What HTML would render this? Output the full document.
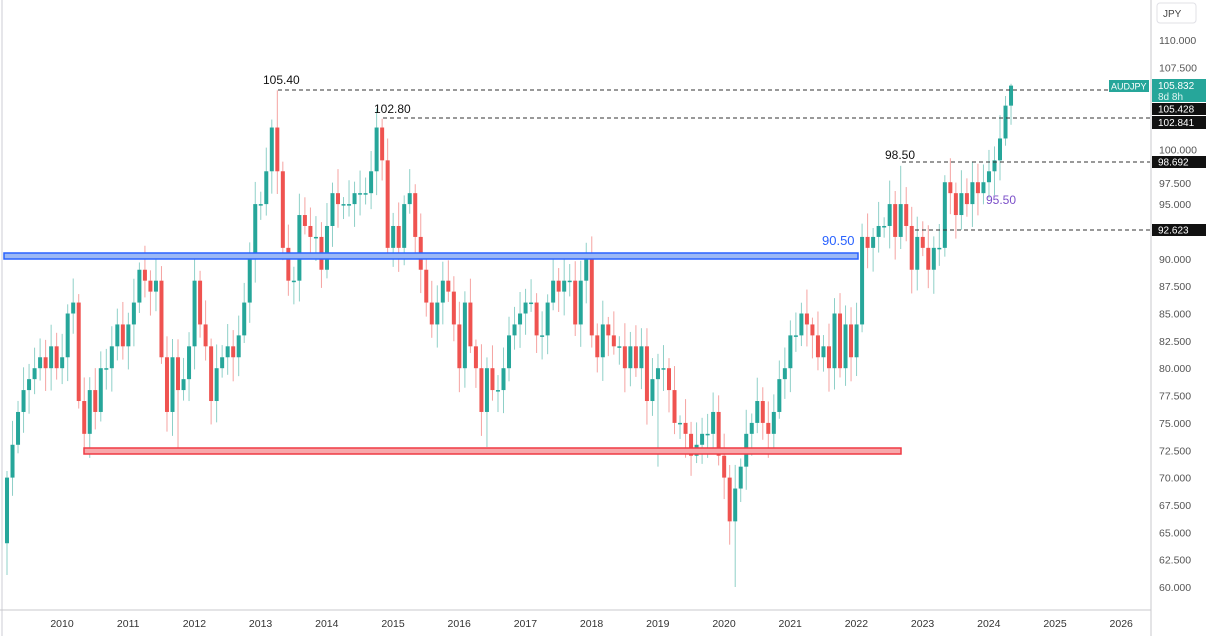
<!DOCTYPE html>
<html><head><meta charset="utf-8"><style>
body{margin:0;background:#fff;font-family:"Liberation Sans",sans-serif}
svg{display:block}
</style></head><body>
<svg id="c" width="1206" height="636" xmlns="http://www.w3.org/2000/svg" font-family="Liberation Sans, sans-serif">
<rect width="1206" height="636" fill="#fff"/>
<line x1="2" y1="0" x2="2" y2="636" stroke="#e6e6ea" stroke-width="2"/>
<g id="cand"></g>
<rect x="4" y="253" width="854" height="6" fill="#9bb8f5" stroke="#2962ff" stroke-width="1.5"/>
<rect x="84" y="448" width="817" height="6" fill="#f8a8ab" stroke="#ef3a44" stroke-width="1.5"/>
<g stroke="#333" stroke-width="1" stroke-dasharray="4,3">
<line x1="278" y1="90" x2="1108" y2="90"/>
<line x1="383" y1="118" x2="1150" y2="118"/>
<line x1="902" y1="162" x2="1150" y2="162"/>
<line x1="915" y1="230" x2="1150" y2="230"/>
</g>
<g font-size="12" fill="#111">
<text x="263" y="84">105.40</text>
<text x="374" y="113">102.80</text>
<text x="885" y="159">98.50</text>
</g>
<text x="822" y="245" font-size="13" fill="#2962ff">90.50</text>
<text x="986" y="204" font-size="12" fill="#7b4fc9">95.50</text>
<line x1="1151" y1="0" x2="1151" y2="636" stroke="#c8c8cc"/>
<line x1="0" y1="610" x2="1151" y2="610" stroke="#c8c8cc"/>
<g id="ylab" font-size="10.5" fill="#555"></g>
<g id="xlab" font-size="10.5" fill="#333"></g>
<rect x="1157" y="3" width="39" height="20" rx="3" fill="#fff" stroke="#e0e0e6"/>
<text x="1163" y="17" font-size="10" fill="#444">JPY</text>
<rect x="1109" y="80" width="40" height="12" fill="#26a69a"/>
<text x="1111" y="89.5" font-size="9" fill="#fff">AUDJPY</text>
<rect x="1152" y="79" width="54" height="23" fill="#26a69a"/>
<text x="1158" y="89" font-size="10" fill="#fff">105.832</text>
<text x="1158" y="100" font-size="10" fill="#e0f5f2">8d 8h</text>
<rect x="1152" y="103" width="54" height="12" fill="#111"/>
<text x="1158" y="112.5" font-size="10" fill="#fff">105.428</text>
<rect x="1152" y="116" width="54" height="13" fill="#111"/>
<text x="1158" y="126" font-size="10" fill="#fff">102.841</text>
<rect x="1152" y="156" width="54" height="12" fill="#111"/>
<text x="1158" y="165.5" font-size="10" fill="#fff">98.692</text>
<rect x="1152" y="224" width="54" height="12" fill="#111"/>
<text x="1158" y="233.5" font-size="10" fill="#fff">92.623</text>
</svg>
<script>
var Y=function(p){return 40+(110-p)*10.94;};
var yl=document.getElementById('ylab'),s='';
for(var p=110;p>=60;p-=2.5){ if(Math.abs(p-97.5)<0.1){s+='<text x="1159" y="'+(Y(p)+10)+'">97.500</text>';continue;}
 s+='<text x="1159" y="'+(Y(p)+4)+'">'+p.toFixed(3)+'</text>';}
yl.innerHTML=s;
var xl=document.getElementById('xlab');s='';
for(var yr=2010;yr<=2026;yr++){var x=62+(yr-2010)*66.2;s+='<text x="'+x+'" y="627" text-anchor="middle">'+yr+'</text>';}
xl.innerHTML=s;
var closes=[
70,73,76,78,79,80,81,80,82,
80,81,85,86,77,74,78,76,80,80,82,84,
82,84,86,89,88,87,88,81,76,81,78,79,
82,88,84,82,77,80,81,82,81,83,86,90,
95,95,98,102,98,91,88,88,94,93,92,92,
89,93,96,95,95,95,96,96,96,98,102,99,
91,93,91,95,96,92,89,86,84,86,88,87,
84,80,86,82,80,76,80,78,78,80,83,84,
85,86,86,83,83,86,88,87,88,88,84,88,
90,83,81,84,83,82,82,80,82,80,82,77,
79,80,80,78,75,75,74,72,73,74,74,76,
72,70,66,69,71,74,75,77,75,74,76,79,
80,83,83,85,84,83,81,82,80,85,80,84,
81,84,92,91,92,93,93,95,92,95,93,89,
92,91,89,91,91,97,96,94,96,95,97,96,
97,98,99,101,104,105.83];
var ov={0:[61.1,null],14:[72.3,null],31:[72.3,null],87:[72.8,null],118:[71,null],132:[60,null],49:[null,105.4],68:[null,102.8],162:[null,98.5]};
ov[closes.length-1]=[null,106.0];
var g='',o=64;
for(var i=0;i<closes.length;i++){
 var c=closes[i],x=7+i*66.2/12;
 var hi=Math.max(o,c)+0.6+1.6*Math.abs(Math.sin(i*1.7)),lo=Math.min(o,c)-0.6-1.6*Math.abs(Math.cos(i*2.3));
 if(ov[i]){if(ov[i][0]!=null)lo=ov[i][0];if(ov[i][1]!=null)hi=ov[i][1];}
 var up=c>=o,col=up?'#26a69a':'#ef5350',wc=up?'#8fd0c8':'#f5a3a1';
 g+='<line x1="'+x+'" x2="'+x+'" y1="'+Y(hi)+'" y2="'+Y(lo)+'" stroke="'+wc+'" stroke-width="1"/>';
 var t=Y(Math.max(o,c)),b=Y(Math.min(o,c));if(b-t<1.5)b=t+1.5;
 g+='<rect x="'+(x-2)+'" y="'+t+'" width="4" height="'+(b-t)+'" fill="'+col+'"/>';
 o=c;
}
document.getElementById('cand').innerHTML=g;
</script>
</body></html>
